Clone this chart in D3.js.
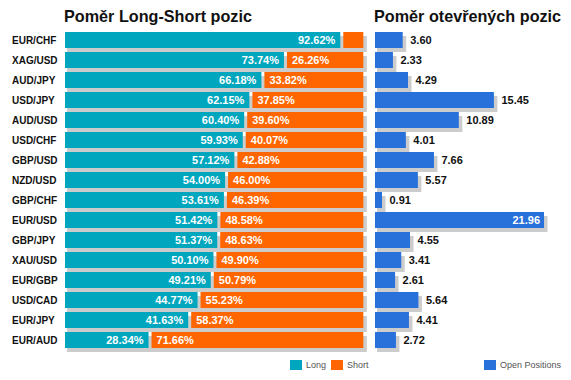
<!DOCTYPE html>
<html><head><meta charset="utf-8">
<script src="https://cdn.jsdelivr.net/npm/d3@7/dist/d3.min.js"></script>
<style>body{margin:0;background:#fff;}svg{display:block;font-family:Arial,"Liberation Sans",sans-serif;}</style>
</head><body>
<svg id="c" width="571" height="380"></svg>
<script>
const categories = ["EUR/CHF","XAG/USD","AUD/JPY","USD/JPY","AUD/USD","USD/CHF","GBP/USD","NZD/USD","GBP/CHF","EUR/USD","GBP/JPY","XAU/USD","EUR/GBP","USD/CAD","EUR/JPY","EUR/AUD"];
const longPct = [92.62,73.74,66.18,62.15,60.40,59.93,57.12,54.00,53.61,51.42,51.37,50.10,49.21,44.77,41.63,28.34];
const shortPct = [7.38,26.26,33.82,37.85,39.60,40.07,42.88,46.00,46.39,48.58,48.63,49.90,50.79,55.23,58.37,71.66];
const openPositions = [3.60,2.33,4.29,15.45,10.89,4.01,7.66,5.57,0.91,21.96,4.55,3.41,2.61,5.64,4.41,2.72];
const titles = ["Poměr Long-Short pozic","Poměr otevřených pozic"];
const legendLabels = ["Long","Short","Open Positions"];

const C_LONG="#00A6BE", C_SHORT="#FF6600", C_OPEN="#2870DA", C_SH="#CCCCCC";
const svg=d3.select("#c");
const y=d3.scaleBand().domain(categories).range([30,350]).paddingInner(0.2).paddingOuter(0.1);
const xL=d3.scaleLinear().domain([0,100]).range([65,363.3]);
const xR=d3.scaleLinear().domain([0,d3.max(openPositions)]).range([375,544]);
const bh=y.bandwidth();

// titles
svg.append("text").attr("x",64).attr("y",22).attr("font-size",16.2).attr("font-weight","bold").attr("fill","#111").text(titles[0]);
svg.append("text").attr("x",374).attr("y",22).attr("font-size",16.2).attr("font-weight","bold").attr("fill","#111").text(titles[1]);

const rows=categories.map((c,i)=>({c,l:longPct[i],s:shortPct[i],o:openPositions[i]}));

// left shadows
svg.selectAll(".shL").data(rows).join("rect")
  .attr("x",xL(0)+2).attr("y",d=>y(d.c)+4).attr("width",xL(100)-xL(0)+1.5).attr("height",bh).attr("fill",C_SH);
// long
svg.selectAll(".lg").data(rows).join("rect")
  .attr("x",xL(0)).attr("y",d=>y(d.c)).attr("width",d=>xL(d.l)-xL(0)-1).attr("height",bh).attr("fill",C_LONG);
// short
svg.selectAll(".st").data(rows).join("rect")
  .attr("x",d=>xL(d.l)+2).attr("y",d=>y(d.c)).attr("width",d=>xL(100)-xL(d.l)-2).attr("height",bh).attr("fill",C_SHORT);
// labels
svg.selectAll(".lt").data(rows).join("text")
  .attr("x",d=>xL(d.l)-6).attr("y",d=>y(d.c)+bh/2).attr("dy","0.36em").attr("text-anchor","end")
  .attr("font-size",11).attr("font-weight","bold").attr("fill","#fff").text(d=>d.l.toFixed(2)+"%");
svg.selectAll(".stx").data(rows.filter(d=>d.s>15)).join("text")
  .attr("x",d=>xL(d.l)+7).attr("y",d=>y(d.c)+bh/2).attr("dy","0.36em")
  .attr("font-size",11).attr("font-weight","bold").attr("fill","#fff").text(d=>d.s.toFixed(2)+"%");
// category labels
svg.selectAll(".cat").data(rows).join("text")
  .attr("x",12).attr("y",d=>y(d.c)+bh/2).attr("dy","0.36em")
  .attr("font-size",10).attr("font-weight","bold").attr("fill","#111").text(d=>d.c);

// right
svg.selectAll(".shR").data(rows).join("rect")
  .attr("x",xR(0)+2).attr("y",d=>y(d.c)+4).attr("width",d=>xR(d.o)-xR(0)+1.5).attr("height",bh).attr("fill",C_SH);
svg.selectAll(".op").data(rows).join("rect")
  .attr("x",xR(0)).attr("y",d=>y(d.c)).attr("width",d=>xR(d.o)-xR(0)).attr("height",bh).attr("fill",C_OPEN);
const inside=d=>xR(d.o)>520;
svg.selectAll(".ot").data(rows).join("text")
  .attr("x",d=>inside(d)?xR(d.o)-4:xR(d.o)+7.5).attr("y",d=>y(d.c)+bh/2).attr("dy","0.36em")
  .attr("text-anchor",d=>inside(d)?"end":"start")
  .attr("font-size",11).attr("font-weight","bold").attr("fill",d=>inside(d)?"#fff":"#111").text(d=>d.o.toFixed(2));

// legend
const leg=[{x:290,c:C_LONG,t:legendLabels[0]},{x:331,c:C_SHORT,t:legendLabels[1]},{x:484,c:C_OPEN,t:legendLabels[2]}];
leg.forEach(l=>{
  svg.append("rect").attr("x",l.x).attr("y",360).attr("width",12).attr("height",10).attr("fill",l.c);
  svg.append("text").attr("x",l.x+16).attr("y",365).attr("dy","0.35em").attr("font-size",9).attr("fill","#555").text(l.t);
});
</script>
</body></html>
